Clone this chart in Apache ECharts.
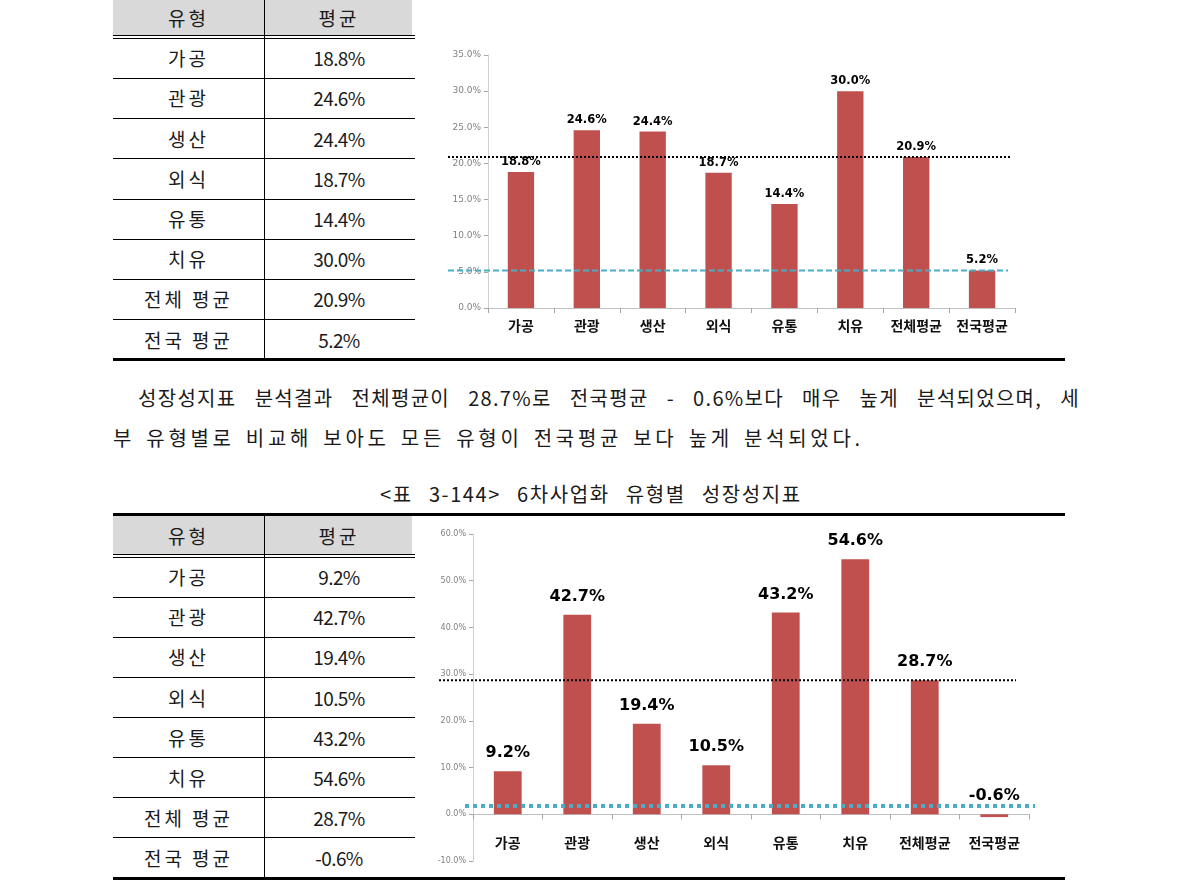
<!DOCTYPE html>
<html><head><meta charset="utf-8">
<script src="https://cdn.jsdelivr.net/npm/echarts@6/dist/echarts.min.js"></script>
<style>
body{margin:0;width:1190px;height:885px;background:#fff;position:relative;overflow:hidden;font-family:"Noto Sans CJK KR","Noto Sans",sans-serif;color:#1a1a1a;}
.abs{position:absolute;}
.ln{position:absolute;background:#000;}
.cell{position:absolute;display:flex;align-items:center;justify-content:center;font-size:19px;line-height:1;}
.ko{letter-spacing:3px;}
.num{letter-spacing:-0.6px;}
.para{position:absolute;font-size:20px;line-height:1;white-space:nowrap;}
</style></head><body>
<div id="tables"></div>
<div class="para" style="left:138px;top:388px;width:942px;letter-spacing:1.3px;text-align:justify;text-align-last:justify;white-space:normal;">성장성지표 분석결과 전체평균이 28.7%로 전국평균 - 0.6%보다 매우 높게 분석되었으며, 세</div>
<div class="para" style="left:113px;top:428px;letter-spacing:3.7px;word-spacing:3px;">부 유형별로 비교해 보아도 모든 유형이 전국평균 보다 높게 분석되었다.</div>
<div class="para" style="left:0;top:484px;width:1182px;text-align:center;letter-spacing:1.6px;word-spacing:10px;">&lt;표 3-144&gt; 6차사업화 유형별 성장성지표</div>
<div id="c1" class="abs" style="left:420px;top:40px;width:620px;height:310px"></div>
<div id="c2" class="abs" style="left:420px;top:520px;width:640px;height:355px"></div>
<script>
// ---- data ----
const categories = ['가공','관광','생산','외식','유통','치유','전체평균','전국평균'];
const tableNames = ['가공','관광','생산','외식','유통','치유','전체 평균','전국 평균'];
const headerLabels = ['유형','평균'];
const values1 = [18.8, 24.6, 24.4, 18.7, 14.4, 30.0, 20.9, 5.2];
const values2 = [9.2, 42.7, 19.4, 10.5, 43.2, 54.6, 28.7, -0.6];
const refLines1 = [20.9, 5.2];   // overall avg (black dotted), national avg (teal dashed)
const refLines2 = [28.7, 1.8];   // overall avg (black dotted), national avg line as drawn
const fmt = v => v.toFixed(1) + '%';

// ---- tables (HTML) ----
function buildTable(g, values){
  const root = document.getElementById('tables');
  const add = (cls, style, html) => { const d=document.createElement('div'); d.className=cls; d.style.cssText=style; if(html!==undefined) d.innerHTML=html; root.appendChild(d); };
  if (g.topThick !== null) add('ln', `left:113px;top:${g.topThick}px;width:952px;height:3px;`);
  add('abs', `left:113px;top:${g.hTop}px;width:299px;height:${g.hBot-g.hTop}px;background:#D9D9D9;`);
  add('cell ko', `left:113px;top:${g.hTop}px;width:151px;height:${g.hBot-g.hTop}px;`, headerLabels[0]);
  add('cell ko', `left:264px;top:${g.hTop}px;width:150px;height:${g.hBot-g.hTop}px;`, headerLabels[1]);
  add('ln', `left:113px;top:${g.hBot}px;width:302px;height:1px;`);
  add('ln', `left:113px;top:${g.hBot+2.5}px;width:302px;height:1px;`);
  for (let i=0;i<tableNames.length;i++){
    const t = g.rowStart + i*g.step;
    add('cell ko', `left:113px;top:${t}px;width:151px;height:${g.step}px;`, tableNames[i]);
    add('cell num', `left:264px;top:${t}px;width:150px;height:${g.step}px;`, fmt(values[i]));
    if (i < tableNames.length-1) add('ln', `left:113px;top:${t+g.step}px;width:302px;height:1px;`);
  }
  const bottom = g.rowStart + tableNames.length*g.step;
  add('ln', `left:113px;top:${bottom-1}px;width:952px;height:3px;`);
  add('ln', `left:264px;top:${g.hTop}px;width:1px;height:${bottom-g.hTop}px;`);
}
buildTable({topThick:null, hTop:0, hBot:35, rowStart:37.7, step:40.2}, values1);
buildTable({topThick:513, hTop:516, hBot:554, rowStart:556.7, step:40.1}, values2);

// ---- charts ----
function chartOption(cfg){
  const g = (l,w) => ({left:l, top:cfg.grid[1], width:w, height:cfg.grid[3], outerBoundsMode:'none', containLabel:false});
  return {
    animation:false,
    grid:[ g(cfg.grid[0], cfg.grid[2]), g(cfg.blk[0], cfg.blk[1]), g(cfg.teal[0], cfg.teal[1]) ],
    xAxis:[
      // axis line + ticks through the zero value
      {type:'category', data:categories, gridIndex:0,
       axisLine:{onZero:true, lineStyle:{color:'#BFBFBF', width:1}},
       axisTick:{show:true, length:5, lineStyle:{color:'#A6A6A6'}},
       axisLabel:{show:false}},
      {type:'value', gridIndex:1, min:0, max:1, show:false},
      {type:'value', gridIndex:2, min:0, max:1, show:false},
      // category labels
      {type:'category', data:categories, gridIndex:0, position:'bottom',
       axisLine:{show:false, onZero:false}, axisTick:{show:false},
       axisLabel:{interval:0, color:'#111', fontSize:14, fontWeight:'bold', margin:cfg.catMargin, fontFamily:'"Noto Sans CJK KR"'}}
    ],
    yAxis:[
      {type:'value', gridIndex:0, min:cfg.min, max:cfg.max, interval:cfg.interval,
       axisLine:{show:true, lineStyle:{color:'#D0D0D0'}},
       axisTick:{show:true, length:4, lineStyle:{color:'#A6A6A6'}},
       splitLine:{show:false},
       axisLabel:{formatter:v=>fmt(v), fontSize:cfg.yFont, color:'#808080', margin:7, fontFamily:'Verdana, "DejaVu Sans", sans-serif'}},
      {type:'value', gridIndex:1, min:cfg.min, max:cfg.max, show:false},
      {type:'value', gridIndex:2, min:cfg.min, max:cfg.max, show:false}
    ],
    series:[
      {type:'bar', xAxisIndex:0, yAxisIndex:0, data:cfg.values, barWidth:'40%', itemStyle:{color:'#C0504D'},
       label:{show:true, position:'top', distance:cfg.labDist, formatter:p=>fmt(p.value),
              fontSize:cfg.labFont, fontWeight:'bold', color:'#000', fontFamily:'"DejaVu Sans", sans-serif'}},
      {type:'line', xAxisIndex:2, yAxisIndex:2, data:[[0,cfg.refs[1]],[1,cfg.refs[1]]], symbol:'none', silent:true,
       lineStyle:{color:'#4BACC6', width:cfg.tealW, type:cfg.tealDash}, z:3},
      {type:'line', xAxisIndex:1, yAxisIndex:1, data:[[0,cfg.refs[0]],[1,cfg.refs[0]]], symbol:'none', silent:true,
       lineStyle:{color:'#000', width:2, type:[2,2]}, z:4}
    ]
  };
}
const c1 = echarts.init(document.getElementById('c1'));
c1.setOption(chartOption({min:0, max:35, interval:5, grid:[68,15,527,253], blk:[28,562], teal:[28,560],
  values:values1, refs:refLines1, catMargin:11, yFont:9, labDist:4, labFont:11.5, tealW:2, tealDash:[6,3]}));
const c2 = echarts.init(document.getElementById('c2'));
c2.setOption(chartOption({min:-10, max:60, interval:10, grid:[53,14,556,327], blk:[19,577], teal:[45,570],
  values:values2, refs:refLines2, catMargin:-25, yFont:8, labDist:10, labFont:16, tealW:4, tealDash:[4,4]}));
</script>
</body></html>
